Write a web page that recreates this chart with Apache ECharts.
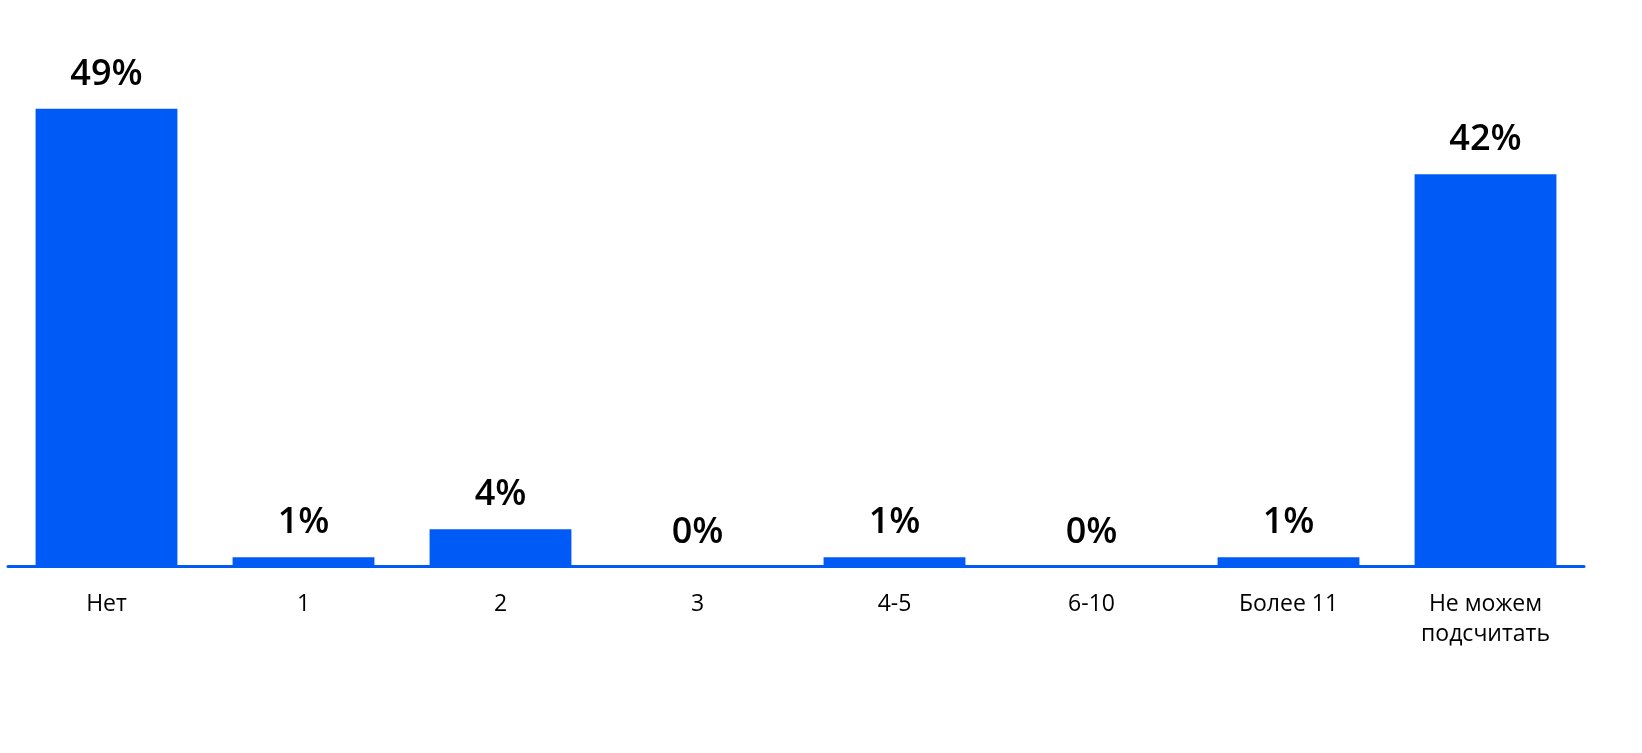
<!DOCTYPE html>
<html>
<head>
<meta charset="utf-8">
<script src="https://cdn.jsdelivr.net/npm/echarts@6/dist/echarts.min.js"></script>
<style>
html,body{margin:0;padding:0;background:#fff;}
#chart{width:1642px;height:753px;}
</style>
</head>
<body>
<div id="chart"></div>
<script>
const categories = ['Нет', '1', '2', '3', '4-5', '6-10', 'Более 11', 'Не можем\nподсчитать'];
const values = [49, 1, 4, 0, 1, 0, 1, 42];

const chart = echarts.init(document.getElementById('chart'), null, {renderer: 'canvas'});
chart.setOption({
  animation: false,
  backgroundColor: '#ffffff',
  grid: {left: 8, right: 58, top: 99.5, bottom: 186.5, containLabel: false},
  xAxis: {
    type: 'category',
    data: categories,
    axisLine: {show: true, lineStyle: {color: '#005bf6', width: 3}},
    axisTick: {show: false},
    axisLabel: {
      color: '#000000',
      fontFamily: 'Open Sans',
      fontSize: 23,
      lineHeight: 30,
      margin: 23,
      interval: 0
    },
    splitLine: {show: false}
  },
  yAxis: {
    type: 'value',
    min: 0,
    max: 50,
    show: false,
    splitLine: {show: false}
  },
  series: [{
    type: 'bar',
    data: values,
    barWidth: '72%',
    itemStyle: {color: '#005bf6'},
    label: {
      show: true,
      position: 'top',
      distance: 16,
      color: '#000000',
      fontFamily: 'Open Sans',
      fontWeight: 600,
      fontSize: 36,
      formatter: p => p.value + '%'
    }
  }]
});
</script>
</body>
</html>
